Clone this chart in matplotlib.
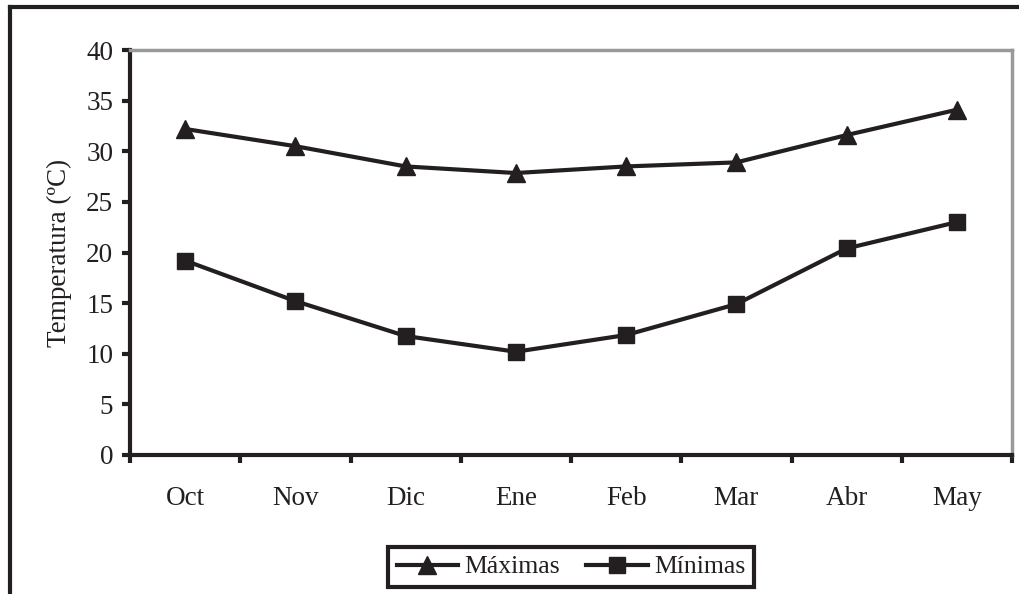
import matplotlib
matplotlib.use("Agg")
import matplotlib.pyplot as plt
from matplotlib.lines import Line2D

months = ["Oct", "Nov", "Dic", "Ene", "Feb", "Mar", "Abr", "May"]
maximas = [32.2, 30.5, 28.5, 27.85, 28.5, 28.9, 31.6, 34.1]
minimas = [19.2, 15.2, 11.75, 10.2, 11.85, 14.9, 20.4, 23.0]

ink = "#231f20"
plt.rcParams["font.family"] = ["Liberation Serif", "DejaVu Serif"]

fig = plt.figure(figsize=(10.19, 5.94), dpi=100)
ax = fig.add_axes([130 / 1019, 1 - 455 / 594, 882 / 1019, 405 / 594])

x = list(range(len(months)))
ax.plot(x, maximas, color=ink, lw=3, marker="^", ms=13, label="Máximas")
ax.plot(x, minimas, color=ink, lw=3, marker="s", ms=12, label="Mínimas")

ax.set_xlim(-0.5, len(months) - 0.5)
ax.set_ylim(0, 40)
ax.set_yticks(range(0, 41, 5))
ax.set_xticks(x)
ax.set_xticklabels(months)
ax.set_xticks([i - 0.5 for i in range(len(months) + 1)], minor=True)
ax.tick_params(axis="x", which="major", length=0, pad=22, labelsize=19.5, colors=ink)
ax.tick_params(axis="x", which="minor", length=6, width=3, color=ink, direction="out")
ax.tick_params(axis="y", length=6, width=3, color=ink, labelsize=19.5, labelcolor=ink, pad=6)

for s in ["left", "bottom"]:
    ax.spines[s].set_color(ink)
    ax.spines[s].set_linewidth(3)
for s in ["top", "right"]:
    ax.spines[s].set_color("#999999")
    ax.spines[s].set_linewidth(2.5)

ax.set_ylabel("Temperatura (ºC)", fontsize=19.5, color=ink, labelpad=10)

leg = fig.legend(loc="center", bbox_to_anchor=(571 / 1019, 1 - 567 / 594), ncol=2,
                 fontsize=18.5, frameon=True, fancybox=False, framealpha=1,
                 handlelength=2.4, columnspacing=1.0, handletextpad=0.25, borderpad=0.35)
leg.get_frame().set_edgecolor(ink)
leg.get_frame().set_linewidth(3)
for t in leg.get_texts():
    t.set_color(ink)

# outer chart frame (left and top visible)
fig.add_artist(Line2D([10 / 1019, 10 / 1019], [0, 1 - 7 / 594], color=ink, lw=3,
                      transform=fig.transFigure))
fig.add_artist(Line2D([10 / 1019, 1], [1 - 7 / 594, 1 - 7 / 594], color=ink, lw=3,
                      transform=fig.transFigure))

fig.savefig("out.png", dpi=100)
